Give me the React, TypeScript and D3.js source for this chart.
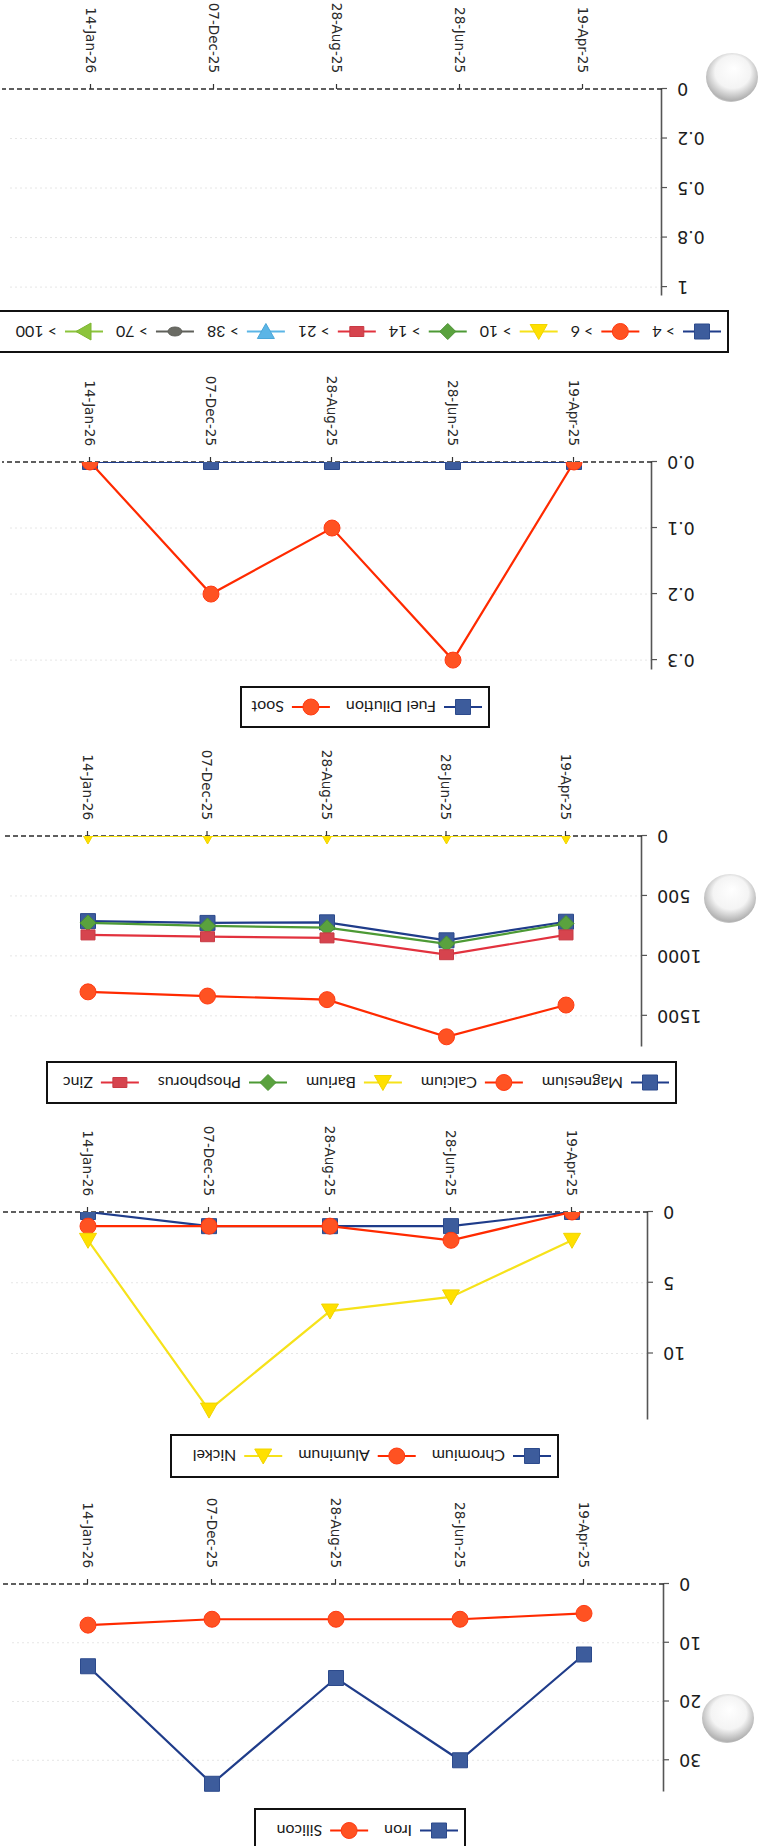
import * as d3 from 'd3';
import { useEffect, useRef } from 'react';

// sample dates, oldest first
const dates = ['19-Apr-25', '28-Jun-25', '28-Aug-25', '07-Dec-25', '14-Jan-26'];

// wear metals
const iron = [12, 30, 16, 34, 14];
const silicon = [5, 6, 6, 6, 7];

const chromium = [0, 1, 1, 1, 0];
const aluminum = [0, 2, 1, 1, 1];
const nickel = [2, 6, 7, 14, 2];

// additives
const magnesium = [715, 870, 720, 725, 710];
const calcium = [1410, 1675, 1365, 1335, 1300];
const barium = [0, 0, 0, 0, 0];
const phosphorus = [730, 900, 765, 750, 725];
const zinc = [825, 990, 850, 840, 825];

// contaminants
const fuelDilution = [0, 0, 0, 0, 0];
const soot = [0, 0.3, 0.1, 0.2, 0];

// particle count classes (legend only, no samples)
const particleClasses = ['> 4', '> 6', '> 10', '> 14', '> 21', '> 38', '> 70', '> 100'];

// y tick values and labels
const ticksA = [0, 10, 20, 30];
const labelsA = ['0', '10', '20', '30'];
const ticksB = [0, 5, 10];
const labelsB = ['0', '5', '10'];
const ticksC = [0, 500, 1000, 1500];
const labelsC = ['0', '500', '1000', '1500'];
const ticksD = [0, 0.1, 0.2, 0.3];
const labelsD = ['0.0', '0.1', '0.2', '0.3'];
const ticksE = [0, 0.25, 0.5, 0.75, 1];
const labelsE = ['0', '0.2', '0.5', '0.8', '1'];

const W = 768;
const H = 1846;
const PLOT_END = 766;

const navySquare = { shape: 'square', line: '#1f3c8a', fill: '#3d5c9c', stroke: '#2c4a8c' };
const redCircle = { shape: 'circle', line: '#ff2a00', fill: '#ff5222', stroke: '#ff3a12' };
const yellowTri = { shape: 'triUp', line: '#f6e21a', fill: '#ffe000', stroke: '#f0d400' };
const greenDiamond = { shape: 'diamond', line: '#4d9a35', fill: '#5aa23e', stroke: '#4b9233' };
const crimsonSquare = { shape: 'rect', line: '#e2323e', fill: '#d6444e', stroke: '#c83a44' };
const skyTri = { shape: 'triDown', line: '#5bb5e6', fill: '#5bb5e6', stroke: '#4aa6d8' };
const grayDot = { shape: 'dot', line: '#5f605a', fill: '#6a6b64', stroke: '#5f605a' };
const limeTri = { shape: 'triRight', line: '#8cc43c', fill: '#8cc43c', stroke: '#7db531' };

const isoStyles = [navySquare, redCircle, yellowTri, greenDiamond, crimsonSquare, skyTri, grayDot, limeTri];

const charts = [
  {
    zeroY: 262, topY: 54, max: 35.4, axisX: 104, firstX: 184, lastX: 680,
    ticks: ticksA, labels: labelsA,
    series: [
      { name: 'Iron', values: iron, style: navySquare },
      { name: 'Silicon', values: silicon, style: redCircle },
    ],
    legend: { x: 303, y: -6, w: 210, h: 43, gap: 35 },
  },
  {
    zeroY: 634, topY: 426, max: 14.7, axisX: 120, firstX: 196, lastX: 680,
    ticks: ticksB, labels: labelsB,
    series: [
      { name: 'Chromium', values: chromium, style: navySquare },
      { name: 'Aluminum', values: aluminum, style: redCircle },
      { name: 'Nickel', values: nickel, style: yellowTri },
    ],
    legend: { x: 210, y: 369, w: 387, h: 42, gap: 35 },
  },
  {
    zeroY: 1010, topY: 799, max: 1760, axisX: 126, firstX: 202, lastX: 680,
    ticks: ticksC, labels: labelsC,
    series: [
      { name: 'Magnesium', values: magnesium, style: navySquare },
      { name: 'Calcium', values: calcium, style: redCircle },
      { name: 'Barium', values: barium, style: yellowTri },
      { name: 'Phosphorus', values: phosphorus, style: greenDiamond },
      { name: 'Zinc', values: zinc, style: crimsonSquare },
    ],
    legend: { x: 92, y: 743, w: 629, h: 41, gap: 38 },
  },
  {
    zeroY: 1384, topY: 1176, max: 0.315, axisX: 116, firstX: 194, lastX: 678,
    ticks: ticksD, labels: labelsD,
    series: [
      { name: 'Fuel Dilution', values: fuelDilution, style: navySquare },
      { name: 'Soot', values: soot, style: redCircle },
    ],
    legend: { x: 279, y: 1119, w: 248, h: 40, gap: 35 },
  },
  {
    zeroY: 1757, topY: 1550, max: 1.045, axisX: 106, firstX: 185, lastX: 677,
    ticks: ticksE, labels: labelsE,
    series: particleClasses.map((name, i) => ({ name, values: [], style: isoStyles[i] })),
    legend: { x: 40, y: 1494, w: 745, h: 41, gap: 32 },
  },
];

// punched holes of the scanned sheet
const holes = [[36, 1769], [38, 948], [40, 128]];

function marker(g, st, cx, cy) {
  let el;
  const s = 7.5;
  if (st.shape === 'circle') {
    el = g.append('circle').attr('cx', cx).attr('cy', cy).attr('r', 8);
  } else if (st.shape === 'dot') {
    el = g.append('ellipse').attr('cx', cx).attr('cy', cy).attr('rx', 7).attr('ry', 4.5);
  } else {
    let p = '';
    if (st.shape === 'square') p = `M${cx - s},${cy - s}h${2 * s}v${2 * s}h${-2 * s}Z`;
    if (st.shape === 'rect') p = `M${cx - 7},${cy - 5}h14v10h-14Z`;
    if (st.shape === 'triUp') p = `M${cx},${cy - 8}L${cx + 8.5},${cy + 7}L${cx - 8.5},${cy + 7}Z`;
    if (st.shape === 'triDown') p = `M${cx},${cy + 8}L${cx + 8.5},${cy - 7}L${cx - 8.5},${cy - 7}Z`;
    if (st.shape === 'triRight') p = `M${cx + 8},${cy}L${cx - 7},${cy - 8.5}L${cx - 7},${cy + 8.5}Z`;
    if (st.shape === 'diamond') p = `M${cx},${cy - 8}L${cx + 8},${cy}L${cx},${cy + 8}L${cx - 8},${cy}Z`;
    el = g.append('path').attr('d', p);
  }
  el.attr('fill', st.fill).attr('stroke', st.stroke).attr('stroke-width', 1);
}

export default function App() {
  const ref = useRef(null);

  useEffect(() => {
    const svg = d3.select(ref.current);
    svg.selectAll('*').remove();

    const ctx = document.createElement('canvas').getContext('2d');
    const legendFont = '16px Lato';
    if (ctx) ctx.font = legendFont;
    const textW = (t) => (ctx ? ctx.measureText(t).width : t.length * 8);

    const defs = svg.append('defs');
    const grad = defs.append('radialGradient').attr('id', 'hole')
      .attr('cx', '50%').attr('cy', '56%').attr('r', '55%').attr('fx', '46%').attr('fy', '68%');
    grad.append('stop').attr('offset', '0%').attr('stop-color', '#ffffff');
    grad.append('stop').attr('offset', '62%').attr('stop-color', '#f4f4f4');
    grad.append('stop').attr('offset', '100%').attr('stop-color', '#b0b0b0');

    svg.append('rect').attr('width', W).attr('height', H).attr('fill', '#fff');

    // the scan is upside down: draw the page upright, then turn it
    const page = svg.append('g').attr('transform', `rotate(180 ${W / 2} ${H / 2})`);

    charts.forEach((c, ci) => {
      const x = d3.scalePoint().domain(dates).range([c.firstX, c.lastX]);
      const y = d3.scaleLinear().domain([0, c.max]).range([c.zeroY, c.topY]);
      const g = page.append('g');

      // faint gridlines
      g.selectAll('line.grid')
        .data(c.ticks.filter(t => t > 0))
        .join('line')
        .attr('class', 'grid')
        .attr('x1', c.axisX).attr('x2', PLOT_END - 8)
        .attr('y1', d => y(d)).attr('y2', d => y(d))
        .attr('stroke', '#e6e6e6').attr('stroke-width', 1).attr('stroke-dasharray', '2,3');

      // value axis
      const ya = g.append('g')
        .attr('transform', `translate(${c.axisX},0)`)
        .call(d3.axisLeft(y).tickValues(c.ticks).tickSize(5).tickSizeOuter(0).tickPadding(10)
          .tickFormat((d, i) => c.labels[i]));
      ya.select('.domain').attr('stroke', '#555').attr('stroke-width', 1.6);
      ya.selectAll('.tick line').attr('stroke', '#555').attr('stroke-width', 1.2);
      ya.selectAll('.tick text')
        .attr('fill', '#1c1c1c')
        .style('font-family', '"DejaVu Sans", Verdana, sans-serif')
        .style('font-size', '17.5px');

      // dashed zero line with date ticks
      g.append('line')
        .attr('x1', c.axisX).attr('x2', PLOT_END)
        .attr('y1', c.zeroY).attr('y2', c.zeroY)
        .attr('stroke', '#2a2a2a').attr('stroke-width', 1.3).attr('stroke-dasharray', '5,3');

      const xa = g.append('g')
        .attr('transform', `translate(0,${c.zeroY})`)
        .call(d3.axisBottom(x).tickSize(5).tickSizeOuter(0));
      xa.select('.domain').remove();
      xa.selectAll('.tick line').attr('stroke', '#333').attr('stroke-width', 1.2);
      xa.selectAll('.tick text')
        .attr('transform', 'rotate(-90)')
        .attr('text-anchor', 'end')
        .attr('x', -16).attr('y', 0).attr('dy', '0.35em')
        .attr('fill', '#2a2a2a')
        .style('font-family', '"DejaVu Sans", Verdana, sans-serif')
        .style('font-size', '13.5px');

      // series, clipped to the plot area
      defs.append('clipPath').attr('id', `plot-${ci}`)
        .append('rect')
        .attr('x', c.axisX).attr('y', c.topY - 20)
        .attr('width', PLOT_END - c.axisX).attr('height', c.zeroY - c.topY + 20);

      const sg = g.append('g').attr('clip-path', `url(#plot-${ci})`);
      c.series.filter(s => s.values.length).forEach(s => {
        const line = d3.line().x((d, i) => x(dates[i])).y(d => y(d));
        sg.append('path')
          .attr('d', line(s.values))
          .attr('fill', 'none')
          .attr('stroke', s.style.line)
          .attr('stroke-width', 2.2);
        s.values.forEach((v, i) => marker(sg, s.style, x(dates[i]), y(v)));
      });

      // legend
      const L = c.legend;
      const lg = g.append('g');
      lg.append('rect')
        .attr('x', L.x).attr('y', L.y).attr('width', L.w).attr('height', L.h)
        .attr('fill', '#fff').attr('stroke', '#111').attr('stroke-width', 2);
      let mx = L.x + 26;
      const my = L.y + L.h / 2;
      c.series.forEach(s => {
        lg.append('line')
          .attr('x1', mx - 19).attr('x2', mx + 19).attr('y1', my).attr('y2', my)
          .attr('stroke', s.style.line).attr('stroke-width', 2.2);
        marker(lg, s.style, mx, my);
        lg.append('text')
          .attr('x', mx + 27).attr('y', my).attr('dy', '0.35em')
          .attr('fill', '#1a1a1a')
          .style('font-family', 'Lato, "Open Sans", sans-serif')
          .style('font-size', '16px')
          .text(s.name);
        mx += 27 + textW(s.name) + L.gap;
      });
    });

    // holes, with the grey lip of the shadow
    holes.forEach(([hx, hy]) => {
      page.append('ellipse')
        .attr('cx', hx + 1).attr('cy', hy - 6).attr('rx', 22).attr('ry', 19)
        .attr('fill', '#8e8e8e').attr('opacity', 0.55);
      page.append('ellipse')
        .attr('cx', hx).attr('cy', hy).attr('rx', 26).attr('ry', 24)
        .attr('fill', 'url(#hole)');
    });

    return () => {
      svg.selectAll('*').remove();
    };
  }, []);

  return (
    <svg
      ref={ref}
      width={W}
      height={H}
      style={{ position: 'absolute', left: 0, top: 0, display: 'block', background: '#fff' }}
    />
  );
}
